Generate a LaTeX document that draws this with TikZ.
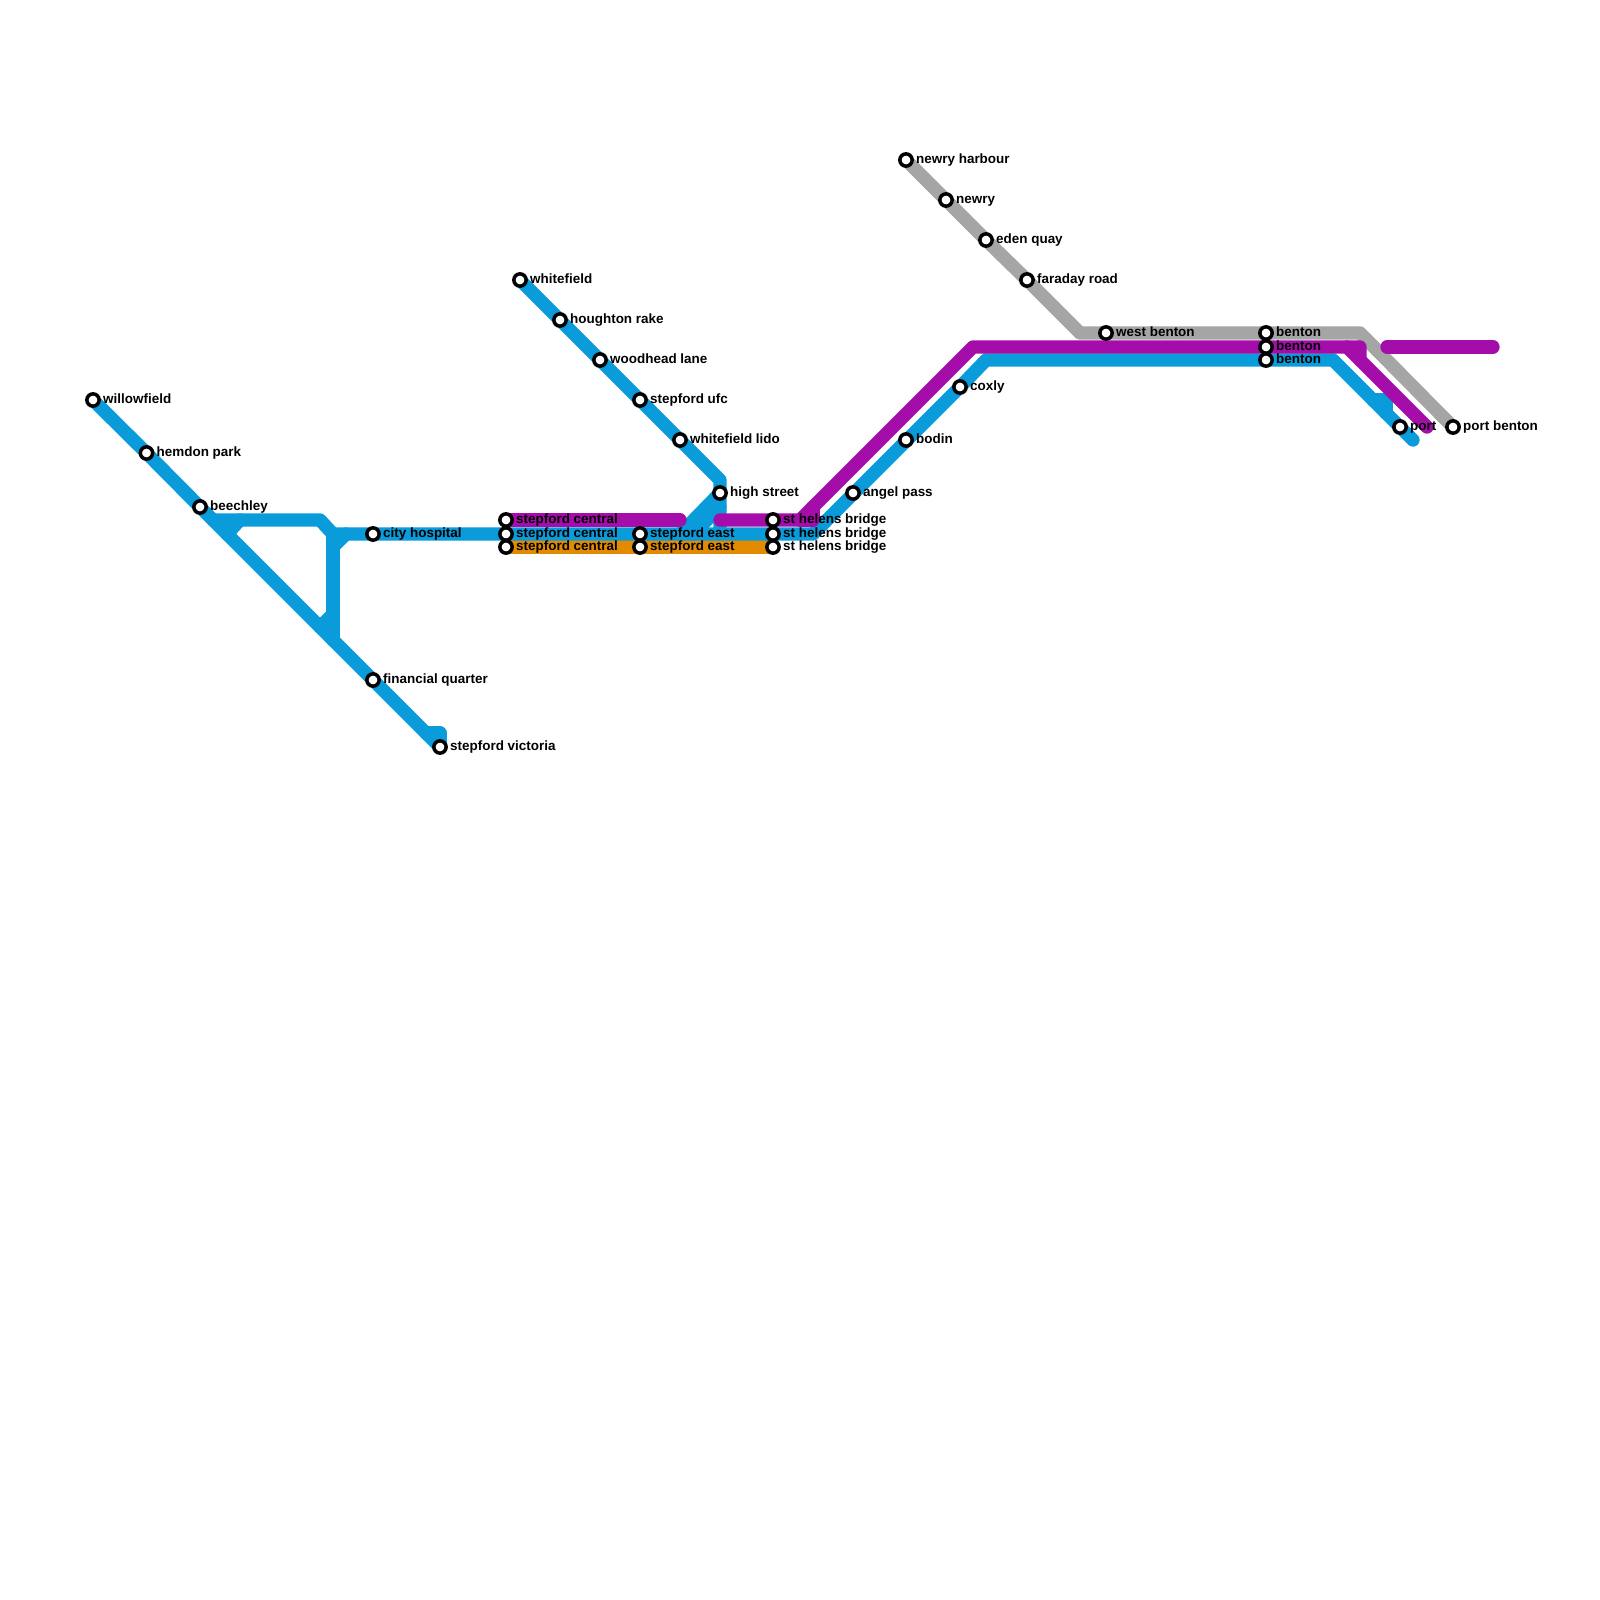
\documentclass[tikz,border=0pt]{standalone}
\usepackage{fontspec}
\setmainfont{Liberation Sans}
\usetikzlibrary{backgrounds}
\definecolor{lblue}{HTML}{0A9BDB}
\definecolor{lpurple}{HTML}{A50DAB}
\definecolor{lgray}{HTML}{A5A5A5}
\definecolor{lorange}{HTML}{E38B00}
\tikzset{
  x=1pt,y=-1pt,
  stn/.style={circle,draw=black,fill=white,line width=3.5pt,minimum size=12.3pt,inner sep=0pt},
  lbl/.style={anchor=base west,inner sep=0pt,text=black,font=\fontsize{13.45pt}{15pt}\selectfont\bfseries},
  route/.style={line width=13.33pt,line cap=round,line join=round},
  blue/.style={route,draw=lblue},
  purple/.style={route,draw=lpurple},
  grey/.style={route,draw=lgray},
  orange/.style={route,draw=lorange},
}
\newcommand{\stnat}[3]{%
  \node[stn] (#1) at (#2) {};
  \node[lbl] (#1-l) at ([xshift=10pt,yshift=-3.5pt]#1.center) {#3};
}
\begin{document}
\begin{tikzpicture}
\useasboundingbox (0,0) rectangle (1600,1600);
% stations
\stnat{willowfield}{93,400}{willowfield}
\stnat{hemdon}{146.5,453}{hemdon park}
\stnat{beechley}{200,507}{beechley}
\stnat{cityhosp}{373,534}{city hospital}
\stnat{financial}{373,680}{financial quarter}
\stnat{victoria}{440,747}{stepford victoria}
\stnat{centralA}{506,520}{stepford central}
\stnat{centralB}{506,534}{stepford central}
\stnat{centralC}{506,547}{stepford central}
\stnat{whitefield}{520,280}{whitefield}
\stnat{houghton}{560,320}{houghton rake}
\stnat{woodhead}{600,360}{woodhead lane}
\stnat{ufc}{640,400}{stepford ufc}
\stnat{lido}{680,440}{whitefield lido}
\stnat{high}{720,493}{high street}
\stnat{eastB}{640,534}{stepford east}
\stnat{eastC}{640,547}{stepford east}
\stnat{helensA}{773,520}{st helens bridge}
\stnat{helensB}{773,534}{st helens bridge}
\stnat{helensC}{773,547}{st helens bridge}
\stnat{angel}{853,493}{angel pass}
\stnat{bodin}{906,440}{bodin}
\stnat{coxly}{960,387}{coxly}
\stnat{harbour}{906,160}{newry harbour}
\stnat{newry}{946,200}{newry}
\stnat{eden}{986,240}{eden quay}
\stnat{faraday}{1027,280}{faraday road}
\stnat{westbenton}{1106,333}{west benton}
\stnat{bentonA}{1266,333}{benton}
\stnat{bentonB}{1266,347}{benton}
\stnat{bentonC}{1266,360}{benton}
\stnat{port}{1400,427}{port}
\stnat{portbenton}{1453,427}{port benton}
% waypoints
\coordinate (g1) at (1080,333);
\coordinate (g2) at (1360,333);
\coordinate (b1) at (213,520);
\coordinate (b2) at (320,520);
\coordinate (b3) at (333,534);
\coordinate (b4) at (333,640);
\coordinate (b5) at (346,534);
\coordinate (b6) at (333,547);
\coordinate (b7) at (320,627);
\coordinate (b8) at (333,614);
\coordinate (b9) at (227,534);
\coordinate (b10) at (240,520);
\coordinate (b11) at (426,733);
\coordinate (b12) at (440,733);
\coordinate (b13) at (720,480);
\coordinate (b14) at (720,534);
\coordinate (b15) at (680,534);
\coordinate (b23) at (720,507);
\coordinate (b24) at (693,534);
\coordinate (b16) at (813,534);
\coordinate (b17) at (986,360);
\coordinate (b18) at (1333,360);
\coordinate (b19) at (1413,440);
\coordinate (b20) at (1373,400);
\coordinate (b21) at (1386,400);
\coordinate (b22) at (1386,413);
\coordinate (p1) at (680,520);
\coordinate (p2) at (720,520);
\coordinate (p3) at (800,520);
\coordinate (p4) at (973,347);
\coordinate (p5) at (1360,347);
\coordinate (p6) at (1347,347);
\coordinate (p7) at (1427,427);
\coordinate (p8) at (1360,360);
\coordinate (p9) at (813,507);
\coordinate (p10) at (813,520);
\coordinate (p11) at (1387,347);
\coordinate (p12) at (1493,347);
% routes
\begin{scope}[on background layer]
\fill[white] (0,0) rectangle (1600,1600);
\draw[grey] (harbour.center) -- (newry.center) -- (eden.center) -- (faraday.center) -- (g1) -- (westbenton.center) -- (bentonA.center) -- (g2) -- (portbenton.center);
\draw[orange,line cap=butt] (centralC.center) -- (eastC.center) -- (helensC.center);
\draw[blue] (willowfield.center) -- (hemdon.center) -- (beechley.center) -- (financial.center) -- (victoria.center);
\draw[blue] (b11) -- (b12) -- (victoria.center);
\draw[blue] (b1) -- (b2) -- (b3) -- (cityhosp.center) -- (centralB.center) -- (eastB.center) -- (helensB.center) -- (b16) -- (coxly.center) -- (b17) -- (bentonC.center) -- (b18) -- (port.center) -- (b19);
\draw[blue] (b3) -- (b4);
\draw[blue] (b5) -- (b6);
\draw[blue] (b7) -- (b8);
\draw[blue] (b9) -- (b10);
\draw[blue] (whitefield.center) -- (houghton.center) -- (woodhead.center) -- (ufc.center) -- (lido.center) -- (b13) -- (high.center) -- (b14);
\draw[blue] (high.center) -- (b15);
\draw[blue] (b23) -- (b24);
\draw[blue] (b20) -- (b21) -- (b22);
\draw[purple] (centralA.center) -- (p1);
\draw[purple] (p2) -- (helensA.center) -- (p3) -- (p4) -- (bentonB.center) -- (p5) -- (p8);
\draw[purple] (p9) -- (p10) -- (p3);
\draw[purple] (p6) -- (p7);
\draw[purple] (p11) -- (p12);
\end{scope}
\end{tikzpicture}
\end{document}
